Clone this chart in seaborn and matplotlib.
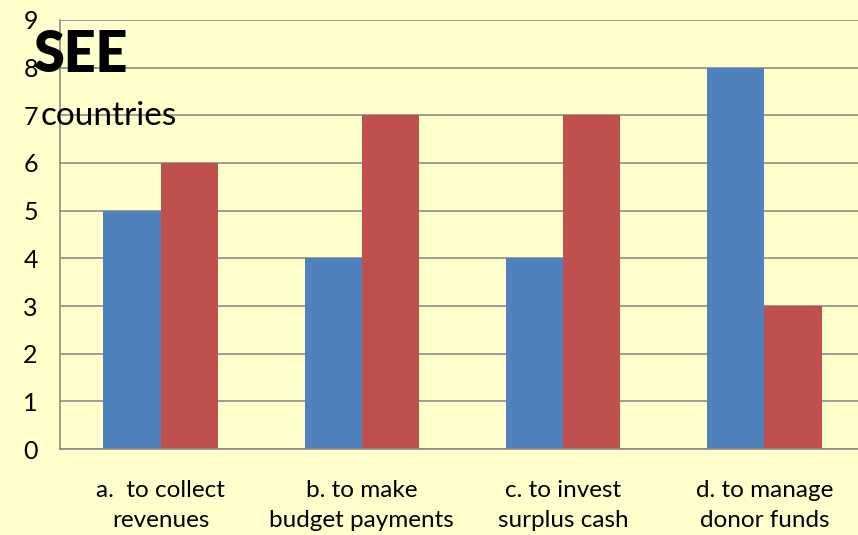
import numpy as np
import pandas as pd
import matplotlib.pyplot as plt
import seaborn as sns

CATEGORIES = ['a.  to collect\nrevenues', 'b. to make\nbudget payments',
              'c. to invest\nsurplus cash', 'd. to manage\ndonor funds']
SERIES = ['Series 1', 'Series 2']
BLUE_VALUES = [5, 4, 4, 8]
RED_VALUES = [6, 7, 7, 3]
Y_TICKS = list(range(0, 10))

BG = '#FFFFCC'
COLORS = ['#4F81BD', '#C0504D']
GRID = '#8C8C8C'

df = pd.DataFrame({
    'category': CATEGORIES * 2,
    'series': [SERIES[0]] * len(CATEGORIES) + [SERIES[1]] * len(CATEGORIES),
    'value': BLUE_VALUES + RED_VALUES,
})

sns.set_style('white')
plt.rcParams['font.family'] = ['Lato', 'DejaVu Sans']
plt.rcParams['text.color'] = 'black'
plt.rcParams['xtick.color'] = 'black'
plt.rcParams['ytick.color'] = 'black'

fig = plt.figure(figsize=(8.58, 5.35), dpi=100, facecolor=BG)
ax = fig.add_axes([0.07, 0.1607, 0.938, 0.802])
ax.set_facecolor(BG)

sns.barplot(data=df, x='category', y='value', hue='series', palette=COLORS,
            width=0.57, saturation=1, legend=False, ax=ax, linewidth=0)

ax.set_ylim(0, 9)
ax.set_xlim(-0.5, len(CATEGORIES) - 0.5)
ax.set_yticks(Y_TICKS)
ax.yaxis.grid(True, color=GRID, linewidth=1.2)
ax.set_axisbelow(True)

# category labels in the middle, tick marks at the boundaries
ax.set_xticks(range(len(CATEGORIES)))
ax.set_xticklabels(CATEGORIES, fontsize=17.5, linespacing=1.55)
ax.set_xticks(np.arange(-0.5, len(CATEGORIES), 1), minor=True)
ax.tick_params(axis='x', which='major', length=0, pad=22, labelcolor='black')
ax.tick_params(axis='x', which='minor', length=8, width=1.2, color=GRID, direction='out')
ax.tick_params(axis='y', length=8, width=1.2, color=GRID, direction='out',
               labelsize=18, pad=8, labelcolor='black')
ax.set_xlabel('')
ax.set_ylabel('')

for side in ['top', 'right']:
    ax.spines[side].set_visible(False)
for side in ['left', 'bottom']:
    ax.spines[side].set_color(GRID)
    ax.spines[side].set_linewidth(1.2)

fig.text(0.039, 0.897, 'SEE', fontsize=40, fontweight='heavy', va='center', ha='left')
fig.text(0.047, 0.783, 'countries', fontsize=24, va='center', ha='left')

fig.savefig('out.png', dpi=100, facecolor=BG)
